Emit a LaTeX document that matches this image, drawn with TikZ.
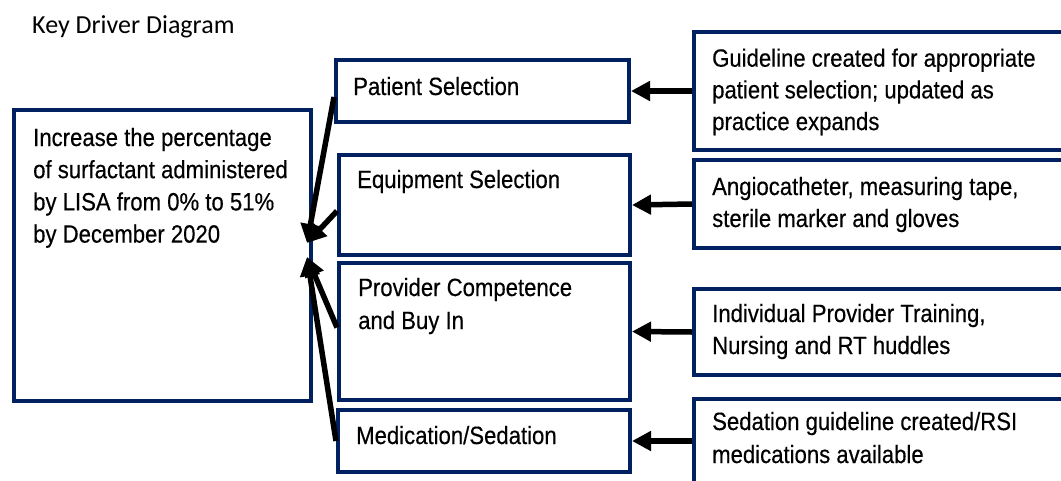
\documentclass[tikz,border=0pt]{standalone}
\usepackage{fontspec}
\setmainfont{Liberation Sans}[FakeStretch=0.885,FakeBold=0.35]
\newfontfamily\titlefont{Carlito}
\usetikzlibrary{arrows.meta}
\definecolor{navy}{HTML}{002060}

\begin{document}
\begin{tikzpicture}[x=1pt,y=-1pt,
  box/.style={draw=navy, line width=4pt, fill=white, rectangle, inner sep=0pt,
    outer sep=2pt, anchor=north west},
  txt/.style={anchor=base west, inner sep=0pt, font=\fontsize{25}{32}\selectfont},
  arr/.style={line width=5.5pt, black, -{Triangle[length=19pt,width=19pt]}}]
\clip (0,0) rectangle (1061,480);
\fill[white] (0,0) rectangle (1061,480);

% heading
\node[anchor=base west, inner sep=0pt, font=\titlefont\fontsize{26}{30}\selectfont]
  (title) at (32,33) {Key Driver Diagram};

% aim
\node[box, minimum width=297pt, minimum height=291pt] (goal) at (12,108) {};
% key drivers
\node[box, minimum width=293pt, minimum height=62pt]  (m1) at (334,58) {};
\node[box, minimum width=291pt, minimum height=100pt] (m2) at (337,153) {};
\node[box, minimum width=291pt, minimum height=137pt] (m3) at (337,261) {};
\node[box, minimum width=292pt, minimum height=62pt]  (m4) at (336,408) {};
% interventions
\node[box, minimum width=400pt, minimum height=118pt] (r1) at (692,30) {};
\node[box, minimum width=400pt, minimum height=88pt]  (r2) at (692,158) {};
\node[box, minimum width=400pt, minimum height=86pt]  (r3) at (692,287) {};
\node[box, minimum width=400pt, minimum height=84pt]  (r4) at (692,397) {};

% texts
\node[txt] (goaltxt) at (33,146) {\vtop{\baselineskip=32.2pt
  \hbox{Increase the percentage}\hbox{of surfactant administered}
  \hbox{by LISA from 0\% to 51\%}\hbox{by December 2020}}};
\node[txt] (m1txt) at (353,95) {Patient Selection};
\node[txt] (m2txt) at (357,188) {Equipment Selection};
\node[txt] (m3txt) at (358,296) {\vtop{\baselineskip=33pt
  \hbox{Provider Competence}\hbox{and Buy In}}};
\node[txt] (m4txt) at (356,444) {Medication/Sedation};
\node[txt] (r1txt) at (712,66.7) {\vtop{\baselineskip=31.7pt
  \hbox{Guideline created for appropriate}\hbox{patient selection; updated as}
  \hbox{practice expands}}};
\node[txt] (r2txt) at (712,195) {\vtop{\baselineskip=32pt
  \hbox{Angiocatheter, measuring tape,}\hbox{sterile marker and gloves}}};
\node[txt] (r3txt) at (712,322) {\vtop{\baselineskip=32pt
  \hbox{Individual Provider Training,}\hbox{Nursing and RT huddles}}};
\node[txt] (r4txt) at (712,430) {\vtop{\baselineskip=33pt
  \hbox{Sedation guideline created/RSI}\hbox{medications available}}};

% interventions feed the drivers
\draw[arr] (r1.west) -- (m1.east);
\draw[arr] (r2.west) -- (m2.east);
\draw[arr] (r3.west) -- (m3.east);
\draw[arr] (r4.west) -- (m4.east);

% drivers converge on the aim
\coordinate (tipA) at (307,243);
\coordinate (tipB) at (307,257);
\draw[arr] ([yshift=-6pt]m1.west) -- (tipA);
\draw[arr] ([yshift=-6pt]m2.west) -- (tipA);
\draw[arr] ([yshift=4pt]m3.west) -- (tipB);
\draw[arr] (m4.west) -- (tipB);
\end{tikzpicture}
\end{document}
